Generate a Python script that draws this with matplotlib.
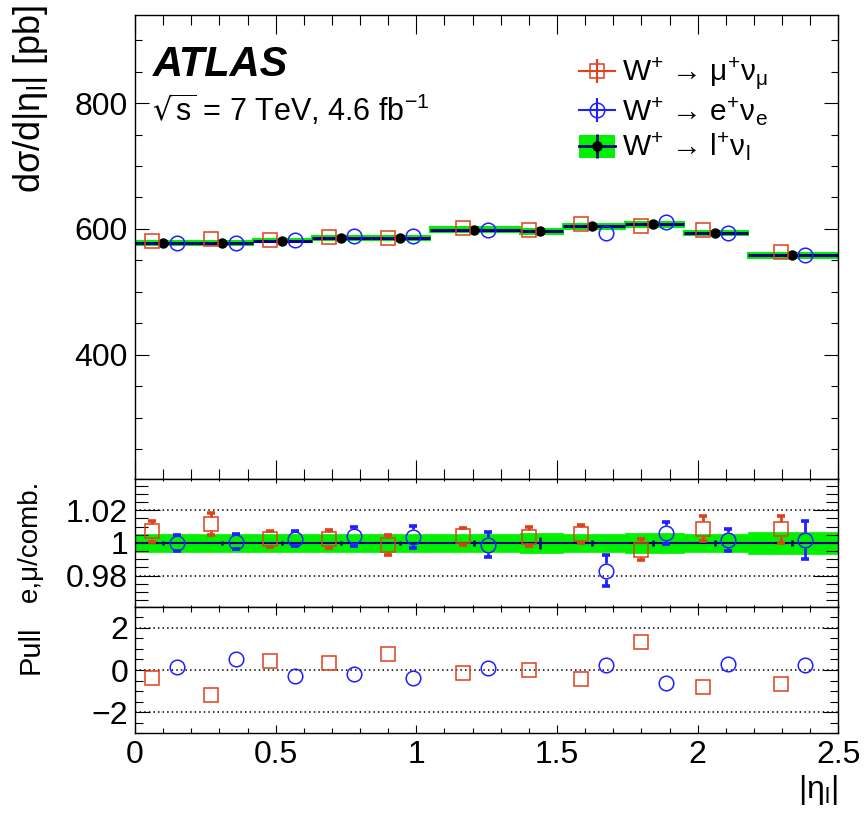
import numpy as np
import matplotlib
matplotlib.use("Agg")
import matplotlib.pyplot as plt
from matplotlib.ticker import MultipleLocator, FuncFormatter
from matplotlib.lines import Line2D
from matplotlib.patches import Patch
from matplotlib.legend_handler import HandlerTuple

plt.rcParams['font.family'] = ['Liberation Sans', 'DejaVu Sans']
plt.rcParams['mathtext.default'] = 'regular'

# |eta_l| binning
eta_edges = [0, 0.21, 0.42, 0.63, 0.84, 1.05, 1.37, 1.52, 1.74, 1.95, 2.18, 2.5]

# combined W+ -> l+ nu cross section [pb] and its relative uncertainty
comb_xsec = [577, 577, 581.5, 586, 586, 599, 596, 604, 607, 593, 558]
comb_rel_unc = [0.0053, 0.0053, 0.0053, 0.0053, 0.0053, 0.0057, 0.006, 0.0058, 0.006, 0.0058, 0.0065]
comb_rel_stat = [0.0015, 0.0015, 0.0015, 0.0015, 0.0015, 0.0016, 0.0036, 0.0016, 0.0016, 0.0016, 0.0016]

# muon and electron channels relative to combination (nan = no measurement)
mu_ratio = [1.0071, 1.0116, 1.0024, 1.0024, 0.9988, 1.004, 1.0037, 1.0055, 0.9959, 1.0088, 1.0083]
mu_ratio_err = [0.0066, 0.0067, 0.005, 0.0057, 0.0063, 0.0053, 0.0058, 0.0057, 0.0066, 0.0075, 0.008]
el_ratio = [1.0, 1.0008, 1.0026, 1.004, 1.0037, 0.999, np.nan, 0.983, 1.0061, 1.0018, 1.0018]
el_ratio_err = [0.0046, 0.0047, 0.0047, 0.0057, 0.0065, 0.0077, np.nan, 0.0096, 0.0068, 0.0065, 0.0117]

# pulls
mu_pull = [-0.38, -1.2, 0.44, 0.31, 0.74, -0.16, 0.0, -0.41, 1.35, -0.82, -0.66]
el_pull = [0.16, 0.5, -0.30, -0.19, -0.38, 0.11, np.nan, 0.24, -0.63, 0.27, 0.22]

RED = '#e0401a'
BLUE = '#1f1fff'
GREEN = '#00f000'
NAVY = '#000080'

edges = np.array(eta_edges)
centers = 0.5 * (edges[:-1] + edges[1:])
widths = np.diff(edges)
comb = np.array(comb_xsec)
x_mu = centers - 0.045
x_el = centers + 0.043
x_comb = centers - 0.004

fig = plt.figure(figsize=(8.64, 8.13), dpi=100)
left, width = 0.15625, 0.81405
ax1 = fig.add_axes([left, 0.41046, width, 0.57109])
ax2 = fig.add_axes([left, 0.25375, width, 0.15671])
ax3 = fig.add_axes([left, 0.09803, width, 0.15572])


def style_ticks(ax, xlen, ylen):
    ax.tick_params(which='both', direction='in', top=True, right=True, width=0.8,
                   labelsize=23, pad=5)
    ax.tick_params(which='major', axis='x', length=xlen[0])
    ax.tick_params(which='minor', axis='x', length=xlen[1])
    ax.tick_params(which='major', axis='y', length=ylen[0])
    ax.tick_params(which='minor', axis='y', length=ylen[1])
    ax.xaxis.set_major_locator(MultipleLocator(0.5))
    ax.xaxis.set_minor_locator(MultipleLocator(0.1))
    ax.set_xlim(0, 2.5)
    for s in ax.spines.values():
        s.set_linewidth(1.0)


def err_with_gap(ax, x, y, err, color, ms):
    # ROOT style: error bar stops at the marker edge
    ax_h = ax.get_position().height * fig.get_figheight() * fig.dpi
    y0, y1 = ax.get_ylim()
    gap = (ms / 2.0 + 0.6) * fig.dpi / 72.0 * (y1 - y0) / ax_h
    for xi, yi, ei in zip(x, y, err):
        if np.isnan(yi):
            continue
        if ei > gap:
            ax.vlines(xi, yi + gap, yi + ei, color=color, lw=2.0, zorder=3)
            ax.vlines(xi, yi - ei, yi - gap, color=color, lw=2.0, zorder=3)
        ax.plot([xi, xi], [yi - ei, yi + ei], ls='none', marker='_', ms=6,
                mew=2.6, color=color, zorder=3)


# main panel
ax1.set_ylim(202, 940)
ax1.bar(centers, 2 * comb * np.array(comb_rel_unc), bottom=comb * (1 - np.array(comb_rel_unc)),
        width=widths, color=GREEN, edgecolor=GREEN, lw=1.5, zorder=1)
ax1.hlines(comb, edges[:-1], edges[1:], color=NAVY, lw=2.2, zorder=2)
ax1.plot(x_comb, comb, 'o', color='k', ms=6.5, zorder=4)
ax1.plot(x_mu, comb * np.array(mu_ratio), 's', ms=9.5, mfc='none', mec=RED, mew=1.1, zorder=5)
ax1.plot(x_el, comb * np.array(el_ratio), 'o', ms=10.5, mfc='none', mec=BLUE, mew=1.1, zorder=5)
style_ticks(ax1, (14, 7), (10, 5))
ax1.yaxis.set_major_locator(MultipleLocator(200))
ax1.yaxis.set_minor_locator(MultipleLocator(50))
ax1.tick_params(axis='x', labelbottom=False)

ax1.text(0.026, 0.892, 'ATLAS', transform=ax1.transAxes, fontsize=30, fontweight='bold',
         style='italic', va='center', ha='left')
ax1.text(0.024, 0.795, r'$\sqrt{s}$ = 7 TeV, 4.6 fb$^{-1}$', transform=ax1.transAxes,
         fontsize=22, va='center', ha='left')

h_mu = (Line2D([], [], color=RED, lw=1.5),
        Line2D([], [], color=RED, marker='|', ms=17, mew=1.5, ls='none'),
        Line2D([], [], marker='s', ms=9.5, mfc='none', mec=RED, mew=1.1, ls='none'))
h_el = (Line2D([], [], color=BLUE, lw=1.5),
        Line2D([], [], color=BLUE, marker='|', ms=17, mew=1.5, ls='none'),
        Line2D([], [], marker='o', ms=10.5, mfc='none', mec=BLUE, mew=1.1, ls='none'))
h_comb = (Patch(facecolor=GREEN, edgecolor='none'),
          Line2D([], [], color=NAVY, lw=2),
          Line2D([], [], color=NAVY, marker='|', ms=17, mew=2, ls='none'),
          Line2D([], [], marker='o', color='k', ms=6.5, ls='none'))
ax1.legend([h_mu, h_el, h_comb],
           ['W$^{+}$ → μ$^{+}$ν$_{μ}$', 'W$^{+}$ → e$^{+}$ν$_{e}$', 'W$^{+}$ → l$^{+}$ν$_{l}$'],
           handler_map={tuple: HandlerTuple(ndivide=1)},
           loc='upper left', bbox_to_anchor=(0.631, 0.912), frameon=False, fontsize=21.5,
           handlelength=1.2, handleheight=0.8, handletextpad=0.25, labelspacing=0.1,
           borderpad=0, borderaxespad=0)

# ratio panel
ax2.set_ylim(0.961, 1.039)
style_ticks(ax2, (3, 1.5), (18, 9))
ax2.yaxis.set_major_locator(MultipleLocator(0.02))
ax2.yaxis.set_minor_locator(MultipleLocator(0.005))
ax2.yaxis.set_major_formatter(FuncFormatter(lambda v, p: '%g' % round(v, 3)))
ax2.tick_params(axis='x', labelbottom=False)
ax2.bar(centers, 2 * np.array(comb_rel_unc), bottom=1 - np.array(comb_rel_unc),
        width=widths, color=GREEN, edgecolor=GREEN, lw=0.5, zorder=1)
ax2.hlines(np.ones(len(centers)), edges[:-1], edges[1:], color=NAVY, lw=1.5, zorder=2)
ax2.vlines(x_comb, 1 - np.array(comb_rel_stat), 1 + np.array(comb_rel_stat), color=NAVY, lw=1.8, zorder=2)
for yl in (1.02, 0.98):
    ax2.axhline(yl, color='k', ls=(0, (1, 2)), lw=1.1, zorder=0)
err_with_gap(ax2, x_mu, mu_ratio, mu_ratio_err, RED, 9.5)
err_with_gap(ax2, x_el, el_ratio, el_ratio_err, BLUE, 10.5)
ax2.plot(x_mu, mu_ratio, 's', ms=9.5, mfc='none', mec=RED, mew=1.1, zorder=5)
ax2.plot(x_el, el_ratio, 'o', ms=10.5, mfc='none', mec=BLUE, mew=1.1, zorder=5)

# pull panel
ax3.set_ylim(-3, 3)
style_ticks(ax3, (6, 3.5), (11, 6))
ax3.yaxis.set_major_locator(MultipleLocator(2))
ax3.yaxis.set_minor_locator(MultipleLocator(0.5))
for yl in (2, 0, -2):
    ax3.axhline(yl, color='k', ls=(0, (1, 2)), lw=1.1, zorder=0)
ax3.plot(x_mu, mu_pull, 's', ms=9.5, mfc='none', mec=RED, mew=1.1, zorder=5)
ax3.plot(x_el, el_pull, 'o', ms=10.5, mfc='none', mec=BLUE, mew=1.1, zorder=5)
ax3.xaxis.set_major_formatter(FuncFormatter(lambda v, p: '%g' % v))

# axis titles
fig.text(0.035, 0.994, 'dσ/d|η$_{l}$| [pb]', rotation=90, ha='center', va='top', fontsize=26)
fig.text(0.035, 0.4096, 'e,μ/comb.', rotation=90, ha='center', va='top', fontsize=20)
fig.text(0.035, 0.2312, 'Pull', rotation=90, ha='center', va='top', fontsize=21)
fig.text(0.97, 0.028, '|η$_{l}$|', ha='right', va='center', fontsize=23)

fig.savefig('out.png', dpi=100)
